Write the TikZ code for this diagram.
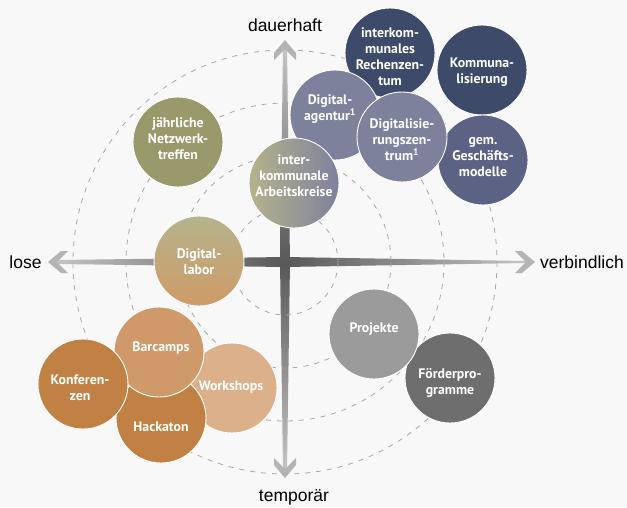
\documentclass[tikz,border=0pt]{standalone}
\usepackage{fontspec}
\usetikzlibrary{calc}
\setmainfont{Liberation Sans}
\newfontfamily\lblfont{PT Sans}
\definecolor{bg}{HTML}{F8F8F8}
\definecolor{axdark}{HTML}{585858}
\definecolor{axlight}{HTML}{C4C4C4}
\definecolor{chev}{HTML}{B4B4B4}
\definecolor{dashc}{HTML}{A8A8A8}
\definecolor{navy}{HTML}{3E4A6A}
\definecolor{slate}{HTML}{5B6284}
\definecolor{bluegrey}{HTML}{7E819C}
\definecolor{olive}{HTML}{9A996B}
\definecolor{olivelight}{HTML}{B5B38C}
\definecolor{orangelight}{HTML}{CF9B67}
\definecolor{camp}{HTML}{D0996A}
\definecolor{rust}{HTML}{C18144}
\definecolor{sand}{HTML}{DCB08A}
\definecolor{grey1}{HTML}{9B9B9B}
\definecolor{grey2}{HTML}{6E6E6E}
\tikzset{
  bub/.style={circle, minimum size=90pt, inner sep=0pt, draw=white, line width=0.9pt},
  txt/.style={text=white, font=\lblfont\bfseries\fontsize{13.8}{16}\selectfont, align=center, inner sep=0pt},
  axlbl/.style={text=black, font=\fontsize{17.5}{20}\selectfont, inner sep=0pt},
  ring/.style={draw=dashc, line width=0.8pt, dash pattern=on 5pt off 6pt},
  chevron/.style={fill=chev}
}
\begin{document}
\begin{tikzpicture}[x=1pt,y=-1pt]
\useasboundingbox (0,0) rectangle (627,507);
\fill[bg] (0,0) rectangle (627,507);
\coordinate (C) at (285,262);
% axes
\shade[left color=axdark, right color=axlight] (285,257) -- (526,261) -- (526,263) -- (285,267) -- cycle;
\shade[left color=axlight, right color=axdark] (57,260) -- (285,257) -- (285,267) -- (57,264) -- cycle;
\shade[top color=axlight, bottom color=axdark] (283,49) -- (287,49) -- (290,262) -- (280,262) -- cycle;
\shade[top color=axdark, bottom color=axlight] (280,262) -- (290,262) -- (287,469) -- (283,469) -- cycle;
\fill[chevron] (535,262) -- (522,251) -- (515,251) -- (526,262) -- (515,273) -- (522,273) -- cycle;
\fill[chevron] (48,262) -- (61,251) -- (68,251) -- (57,262) -- (68,273) -- (61,273) -- cycle;
\fill[chevron] (285,40) -- (296,53) -- (296,60) -- (285,49) -- (274,60) -- (274,53) -- cycle;
\fill[chevron] (285,478) -- (296,465) -- (296,458) -- (285,469) -- (274,458) -- (274,465) -- cycle;
% rings
\foreach \r in {53,106,159,212} \draw[ring] (C) circle[radius=\r];
% axis labels
\node[axlbl] (top) at (285,25) {dauerhaft};
\node[axlbl] (bot) at (294,497) {temporär};
\node[axlbl] (left) at (25.5,262) {lose};
\node[axlbl] (right) at (582,262) {verbindlich};
% bubbles
\node[bub, fill=navy] (rz) at (390,53) {};
\node[bub, fill=navy] (komm) at (482,70) {};
\node[bub, fill=slate] (gem) at (483,160) {};
\node[bub, fill=bluegrey] (dagent) at (335,115) {};
\node[bub, fill=bluegrey] (dzent) at (402,137) {};
\node[bub, left color=olivelight, right color=bluegrey] (ak) at (294,183) {};
\node[bub, fill=olive] (jnt) at (178,142) {};
\node[bub, top color=olivelight, bottom color=orangelight] (dlab) at (199,261) {};
\node[bub, fill=sand] (work) at (232,388) {};
\node[bub, fill=rust] (hack) at (161,418) {};
\node[bub, fill=camp] (bar) at (159,352) {};
\node[bub, fill=rust] (konf) at (83,384) {};
\node[bub, fill=grey2] (foerd) at (450,378) {};
\node[bub, fill=grey1] (proj) at (374,334) {};
% texts
\node[txt] (rz-t) at ($(rz)+(0,4)$) {interkom-\\munales\\Rechenzen-\\tum};
\node[txt] (komm-t) at ($(komm)+(0,2)$) {Kommuna-\\lisierung};
\node[txt] (gem-t) at ($(gem)+(0,-3)$) {gem.\\Geschäfts-\\modelle};
\node[txt] (dagent-t) at ($(dagent)+(-5,-6)$) {Digital-\\agentur\textsuperscript{1}};
\node[txt] (dzent-t) at ($(dzent)+(0,3)$) {Digitalisie-\\rungszen-\\trum\textsuperscript{1}};
\node[txt] (ak-t) at ($(ak)+(0,-7)$) {inter-\\kommunale\\Arbeitskreise};
\node[txt] (jnt-t) at ($(jnt)+(0,-3)$) {jährliche\\Netzwerk-\\treffen};
\node[txt] (dlab-t) at ($(dlab)+(0,1)$) {Digital-\\labor};
\node[txt] (work-t) at ($(work)+(-1,-1)$) {Workshops};
\node[txt] (hack-t) at ($(hack)+(0,9)$) {Hackaton};
\node[txt] (bar-t) at ($(bar)+(2,-4)$) {Barcamps};
\node[txt] (konf-t) at ($(konf)+(-3,4)$) {Konferen-\\zen};
\node[txt] (foerd-t) at ($(foerd)+(0,5)$) {Förderpro-\\gramme};
\node[txt] (proj-t) at ($(proj)+(0,-5)$) {Projekte};
\end{tikzpicture}
\end{document}
